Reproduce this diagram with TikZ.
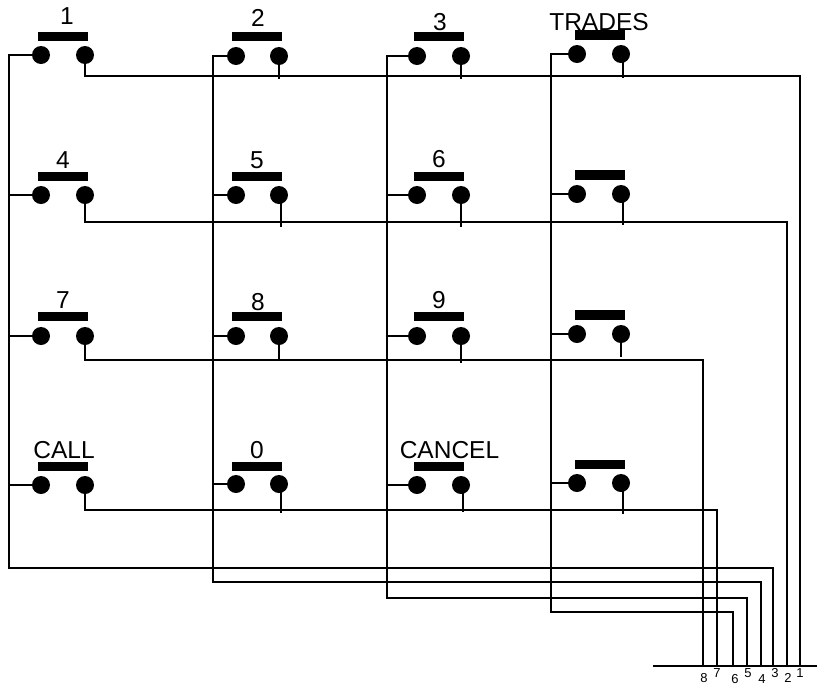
\documentclass[tikz,border=0pt]{standalone}
\usepackage{fontspec}
\setmainfont{Liberation Sans}
\tikzset{
  contact/.style={circle,fill=black,draw=none,minimum size=18pt,inner sep=0pt},
  keybar/.style={rectangle,fill=black,draw=none,minimum width=50pt,minimum height=9.5pt,inner sep=0pt},
  keylabel/.style={anchor=base,inner sep=0pt,font=\fontsize{24.5pt}{26pt}\selectfont},
  pinlabel/.style={anchor=base,inner sep=0pt,font=\fontsize{13pt}{14pt}\selectfont},
  wire/.style={draw=black,line width=1.3pt,line join=miter},
}
% name, bar centre x, bar centre y, left x, right x, contact y
\newcommand{\keysw}[6]{%
  \node[keybar] (#1B) at (#2,#3) {};
  \node[contact] (#1L) at (#4,#6) {};
  \node[contact] (#1R) at (#5,#6) {};
}
\begin{document}
\begin{tikzpicture}[x=1pt,y=-1pt]
\useasboundingbox (0,0) rectangle (817,686);
% switches
\keysw{a}{63}{36.5}{41}{85}{55}
\keysw{b}{257}{36.5}{236}{279}{56}
\keysw{c}{439}{36.5}{417}{461}{56}
\keysw{d}{600}{35}{577}{621}{54}
\keysw{e}{63}{176.5}{41}{85}{195}
\keysw{f}{257}{176.5}{236}{279}{195}
\keysw{g}{439}{176.5}{417}{461}{195}
\keysw{h}{600}{175}{577}{621}{194}
\keysw{i}{63}{316.5}{41}{85}{336}
\keysw{j}{257}{316.5}{236}{279}{336}
\keysw{k}{439}{316.5}{417}{461}{336}
\keysw{l}{600}{315}{577}{621}{334}
\keysw{m}{63}{466.5}{41}{85}{485}
\keysw{n}{257}{466.5}{236}{279}{484}
\keysw{o}{439}{466.5}{417}{461}{485}
\keysw{p}{600}{464.5}{577}{621}{483}
% bus and pins
\coordinate (busL) at (653,666);
\coordinate (busR) at (817,666);
\draw[wire] (busL) -- (busR);
\coordinate (pin8) at (703,666);
\coordinate (pin7) at (717,666);
\coordinate (pin6) at (733,666);
\coordinate (pin5) at (747,666);
\coordinate (pin4) at (761,666);
\coordinate (pin3) at (773,666);
\coordinate (pin2) at (787,666);
\coordinate (pin1) at (800,666);
% column wires
\coordinate (col1) at (9,568);
\coordinate (col2) at (213,582);
\coordinate (col3) at (387,598);
\coordinate (col4) at (551,612);
\draw[wire] (aL) -| (col1) -| (pin3);
\draw[wire] (bL) -| (col2) -| (pin4);
\draw[wire] (cL) -| (col3) -| (pin5);
\draw[wire] (dL) -| (col4) -| (pin6);
\draw[wire] (eL) -- (eL -| col1);
\draw[wire] (iL) -- (iL -| col1);
\draw[wire] (mL) -- (mL -| col1);
\draw[wire] (fL) -- (fL -| col2);
\draw[wire] (jL) -- (jL -| col2);
\draw[wire] (nL) -- (nL -| col2);
\draw[wire] (gL) -- (gL -| col3);
\draw[wire] (kL) -- (kL -| col3);
\draw[wire] (oL) -- (oL -| col3);
\draw[wire] (hL) -- (hL -| col4);
\draw[wire] (lL) -- (lL -| col4);
\draw[wire] (pL) -- (pL -| col4);
% row wires
\coordinate (row1) at (800,76);
\coordinate (row2) at (787,222);
\coordinate (row3) at (703,360);
\coordinate (row4) at (717,510);
\draw[wire] (aR) |- (row1) -- (pin1);
\draw[wire] (eR) |- (row2) -- (pin2);
\draw[wire] (iR) |- (row3) -- (pin8);
\draw[wire] (mR) |- (row4) -- (pin7);
% stubs
\coordinate (sb) at (279,79);
\coordinate (sc) at (461,79);
\coordinate (sd) at (623,78);
\coordinate (sf) at (281,227);
\coordinate (sg) at (461,227);
\coordinate (sh) at (623,225);
\coordinate (sj) at (279,360);
\coordinate (sk) at (461,363);
\coordinate (sl) at (621,357);
\coordinate (sn) at (281,513);
\coordinate (so) at (463,512);
\coordinate (sp) at (623,514);
\foreach \k in {b,c,d,f,g,h,j,k,l,n,o,p}{
  \draw[wire] (s\k |- \k R.center) -- (s\k);
}
% key labels
\node[keylabel] (t1) at (67,24) {1};
\node[keylabel] (t2) at (258,26) {2};
\node[keylabel] (t3) at (440,30) {3};
\node[keylabel] (tT) at (599,30) {TRADES};
\node[keylabel] (t4) at (63,168) {4};
\node[keylabel] (t5) at (257,168) {5};
\node[keylabel] (t6) at (439,167) {6};
\node[keylabel] (t7) at (63,308) {7};
\node[keylabel] (t8) at (258,310) {8};
\node[keylabel] (t9) at (439,308) {9};
\node[keylabel] (tC) at (64,458) {CALL};
\node[keylabel] (t0) at (257,458) {0};
\node[keylabel] (tX) at (449.5,458) {CANCEL};
% pin labels
\node[pinlabel] (p8) at (704,682) {8};
\node[pinlabel] (p7) at (717,677) {7};
\node[pinlabel] (p6) at (735,683) {6};
\node[pinlabel] (p5) at (748,677) {5};
\node[pinlabel] (p4) at (762,683) {4};
\node[pinlabel] (p3) at (775,677) {3};
\node[pinlabel] (p2) at (788,682) {2};
\node[pinlabel] (p1) at (800,677) {1};
\end{tikzpicture}
\end{document}
